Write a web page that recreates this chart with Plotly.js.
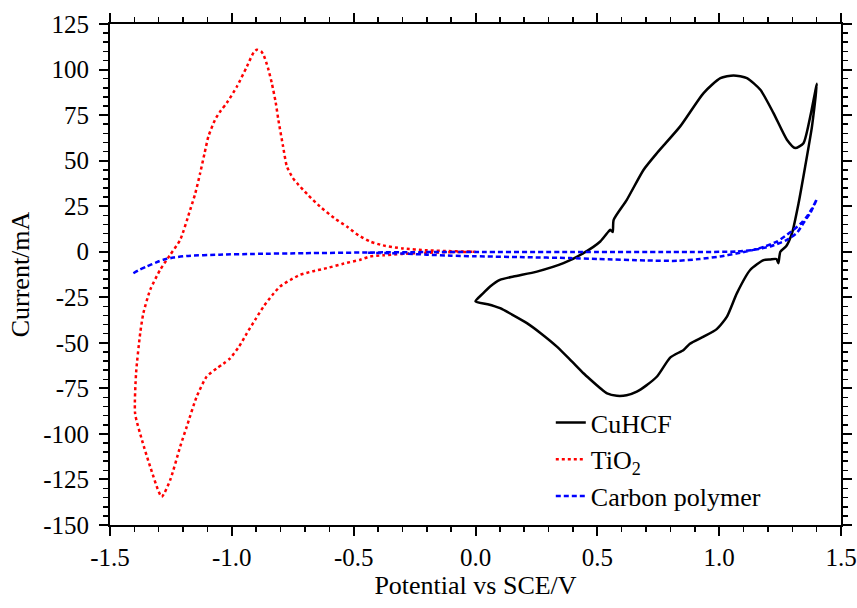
<!DOCTYPE html>
<html><head><meta charset="utf-8">
<script src="https://cdn.plot.ly/plotly-3.0.1.min.js"></script>
<style>html,body{margin:0;padding:0;background:#fff}#chart{width:857px;height:608px}</style>
</head><body><div id="chart"></div>
<script>
// CuHCF cyclic voltammogram (forward sweep then return sweep)
const cuhcfX = [0.000,0.030,0.060,0.100,0.156,0.252,0.361,0.443,0.512,0.546,0.553,0.563,0.567,0.621,0.690,0.745,0.840,0.936,1.005,1.059,1.114,1.169,1.223,1.278,1.312,1.346,1.374,1.401,
  1.381,1.353,1.326,1.299,1.275,1.251,1.243,1.235,1.210,1.182,1.128,1.073,1.032,0.990,0.936,0.880,0.854,0.800,0.745,0.700,0.662,0.620,0.580,0.540,0.512,0.470,0.443,0.390,0.334,0.270,0.211,0.150,0.101,0.050,0.000];
const cuhcfY = [-27.3,-23.0,-19.1,-15.5,-13.6,-10.9,-6.3,-0.8,5.6,11.1,12.0,10.8,17.5,28.5,45.0,54.2,68.8,87.1,95.3,96.8,95.3,88.9,76.1,61.5,56.9,59.6,74.3,92.2,
  68.8,46.8,26.7,10.2,3.0,0.0,-6.3,-4.0,-4.2,-4.6,-9.9,-22.7,-35.6,-42.5,-46.6,-50.5,-53.9,-58.0,-68.5,-73.5,-76.8,-78.8,-79.1,-77.8,-74.9,-70.0,-66.7,-59.5,-52.1,-45.0,-39.2,-34.5,-31.0,-28.8,-27.3];

// TiO2 (cathodic sweep from 0 V, then anodic return)
const tio2X = [0.000,-0.100,-0.200,-0.300,-0.380,-0.432,-0.473,-0.540,-0.610,-0.670,-0.720,-0.760,-0.802,-0.835,-0.870,-0.905,-0.938,-0.970,-1.007,-1.035,-1.062,-1.103,-1.144,-1.185,-1.212,-1.253,-1.288,-1.335,-1.369,-1.397,
  -1.393,-1.376,-1.363,-1.335,-1.294,-1.253,-1.212,-1.171,-1.150,-1.130,-1.112,-1.096,-1.069,-1.045,-1.021,-0.979,-0.938,-0.910,-0.897,-0.880,-0.870,-0.852,-0.836,-0.820,-0.809,-0.790,-0.774,-0.750,-0.733,-0.690,-0.638,-0.580,-0.528,-0.480,-0.432,-0.380,-0.300,-0.200,-0.100,0.000];
const tio2Y = [0.0,-0.2,-0.6,-1.2,-2.0,-2.6,-4.4,-6.5,-9.0,-10.8,-12.7,-15.5,-19.1,-24.0,-30.1,-37.5,-44.7,-52.0,-58.5,-61.5,-64.0,-68.5,-79.5,-96.0,-107.0,-125.3,-134.5,-118.0,-103.3,-88.7,
  -66.7,-44.7,-33.7,-20.9,-9.9,-1.7,6.5,23.0,32.0,43.2,54.0,63.3,72.4,77.5,81.6,90.7,101.7,109.5,110.9,110.0,108.1,101.0,92.6,82.0,72.4,58.0,46.8,40.5,37.7,31.5,24.8,18.5,13.8,9.0,5.6,3.5,1.8,0.8,0.3,0.0];

// Carbon polymer
const carbonX = [-1.404,-1.380,-1.349,-1.310,-1.281,-1.240,-1.185,-1.050,-0.911,-0.700,-0.432,-0.200,0.000,0.400,0.800,1.073,1.150,1.209,1.278,1.320,1.346,1.375,1.401,
  1.380,1.360,1.335,1.305,1.270,1.237,1.190,1.141,1.070,1.004,0.920,0.827,0.700,0.500,0.389,0.200,0.000,-0.100,-0.200,-0.300,-0.450];
const carbonY = [-11.8,-10.0,-8.1,-5.8,-4.4,-3.2,-2.3,-1.6,-1.2,-0.8,-0.4,-0.2,-0.2,-0.1,-0.1,0.1,1.2,2.9,6.5,10.5,15.7,21.5,28.9,
  23.5,19.3,15.5,12.0,8.5,5.6,3.0,1.0,-1.0,-2.6,-4.0,-5.0,-4.8,-4.0,-3.5,-3.0,-2.5,-2.2,-1.6,-1.0,-0.5];

const xTickVals = [-1.5,-1.0,-0.5,0.0,0.5,1.0,1.5];
const xTickLabels = ['-1.5','-1.0','-0.5','0.0','0.5','1.0','1.5'];
const yTickVals = [-150,-125,-100,-75,-50,-25,0,25,50,75,100,125];
const yTickLabels = ['-150','-125','-100','-75','-50','-25','0','25','50','75','100','125'];

const FONT = 'Liberation Serif, Times New Roman, serif';

const traces = [
  {x: cuhcfX, y: cuhcfY, name: 'CuHCF', mode: 'lines', line: {color: '#000000', width: 2.5, shape: 'spline', smoothing: 0.6}},
  {x: tio2X, y: tio2Y, name: 'TiO<sub>2</sub>', mode: 'lines', line: {color: '#ff0000', width: 2.5, dash: 'dot', shape: 'spline', smoothing: 0.6}},
  {x: carbonX, y: carbonY, name: 'Carbon polymer', mode: 'lines', line: {color: '#0000ff', width: 2.5, dash: '5px,3px', shape: 'spline', smoothing: 0.6}}
];

const axisCommon = {
  showline: true, linewidth: 2, linecolor: '#000', mirror: 'ticks',
  ticks: 'outside', ticklen: 9, tickwidth: 2, tickcolor: '#000',
  showgrid: false, zeroline: false,
  tickfont: {family: FONT, size: 25, color: '#000'}
};

const layout = {
  width: 857, height: 608,
  margin: {l: 110, r: 16, t: 24, b: 83, pad: 0},
  paper_bgcolor: '#fff', plot_bgcolor: '#fff',
  font: {family: FONT, color: '#000'},
  showlegend: true,
  xaxis: Object.assign({}, axisCommon, {
    range: [-1.5, 1.5], tickmode: 'array', tickvals: xTickVals, ticktext: xTickLabels,
    minor: {tickmode: 'linear', tick0: 0, dtick: 0.1, ticks: 'outside', ticklen: 5, tickwidth: 1.5, tickcolor: '#000'},
    title: {text: 'Potential vs SCE/V', font: {family: FONT, size: 26, color: '#000'}, standoff: 5}
  }),
  yaxis: Object.assign({}, axisCommon, {
    range: [-150, 125], tickmode: 'array', tickvals: yTickVals, ticktext: yTickLabels,
    ticklabelstandoff: 5,
    minor: {tickmode: 'linear', tick0: 0, dtick: 5, ticks: 'outside', ticklen: 5, tickwidth: 1.5, tickcolor: '#000'},
    title: {text: 'Current/mA', font: {family: FONT, size: 26, color: '#000'}, standoff: 6}
  }),
  legend: {
    x: 0.603, y: 0.01, xanchor: 'left', yanchor: 'bottom',
    bgcolor: 'rgba(0,0,0,0)', borderwidth: 0,
    font: {family: FONT, size: 26, color: '#000'},
    tracegroupgap: 0
  }
};

Plotly.newPlot('chart', traces, layout, {staticPlot: true, displayModeBar: false});
</script></body></html>
